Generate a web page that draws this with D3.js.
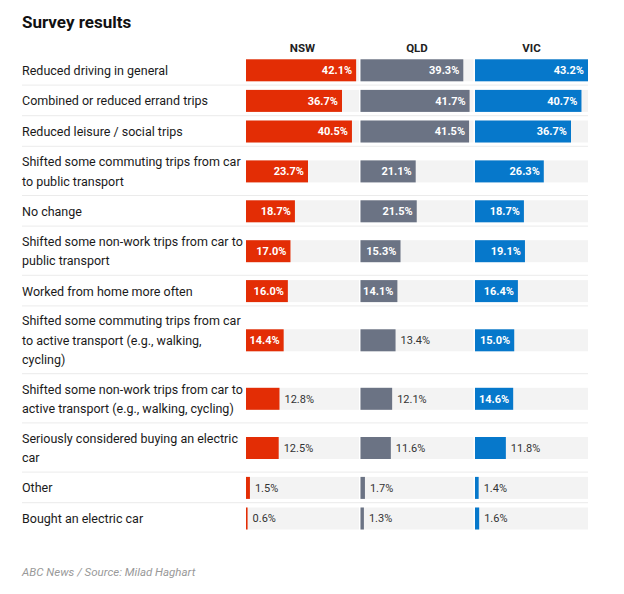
<!DOCTYPE html>
<html>
<head>
<meta charset="utf-8">
<script src="https://cdn.jsdelivr.net/npm/d3@7"></script>
<style>
  html, body { margin: 0; padding: 0; background: #fff; }
  svg { display: block; font-family: Roboto, "Open Sans", sans-serif; }
</style>
</head>
<body>
<div id="chart"></div>
<script>
// Survey data (share of respondents, %)
const states = ["NSW", "QLD", "VIC"];

const categories = [
  "Reduced driving in general",
  "Combined or reduced errand trips",
  "Reduced leisure / social trips",
  "Shifted some commuting trips from car\nto public transport",
  "No change",
  "Shifted some non-work trips from car to\npublic transport",
  "Worked from home more often",
  "Shifted some commuting trips from car\nto active transport (e.g., walking,\ncycling)",
  "Shifted some non-work trips from car to\nactive transport (e.g., walking, cycling)",
  "Seriously considered buying an electric\ncar",
  "Other",
  "Bought an electric car"
];

const nsw = [42.1, 36.7, 40.5, 23.7, 18.7, 17.0, 16.0, 14.4, 12.8, 12.5, 1.5, 0.6];
const qld = [39.3, 41.7, 41.5, 21.1, 21.5, 15.3, 14.1, 13.4, 12.1, 11.6, 1.7, 1.3];
const vic = [43.2, 40.7, 36.7, 26.3, 18.7, 19.1, 16.4, 15.0, 14.6, 11.8, 1.4, 1.6];

const colors = { NSW: "#e32d05", QLD: "#6b7384", VIC: "#0678cb" };

// Layout
const svgWidth = 624;
const svgHeight = 594;
const left = 22;
const right = 588;
const rowsTop = 55;
const lineHeight = 18.6;
const barHeight = 22;

const svg = d3.select("#chart")
  .append("svg")
  .attr("width", svgWidth)
  .attr("height", svgHeight);

// build rows with variable height (depends on label lines)
const series = { NSW: nsw, QLD: qld, VIC: vic };
let yCursor = rowsTop;
const rows = categories.map((c, i) => {
  const lines = c.split("\n");
  const h = 12 + lineHeight * lines.length;
  const row = { label: c, lines: lines, y: yCursor, h: h, i: i };
  yCursor += h;
  return row;
});

const colScale = d3.scaleBand()
  .domain(states)
  .range([246, right])
  .paddingInner(0.013);

const xScale = d3.scaleLinear()
  .domain([0, d3.max([...nsw, ...qld, ...vic])])
  .range([0, colScale.bandwidth()]);

// Title
svg.append("text")
  .attr("x", left)
  .attr("y", 28)
  .attr("font-size", 17)
  .attr("font-weight", 700)
  .attr("fill", "#111")
  .text("Survey results");

// Column headers
svg.selectAll(".colHead")
  .data(states)
  .enter()
  .append("text")
  .attr("x", d => colScale(d) + colScale.bandwidth() / 2)
  .attr("y", 52)
  .attr("text-anchor", "middle")
  .attr("font-size", 11.5)
  .attr("font-weight", 700)
  .attr("fill", "#222")
  .text(d => d);

const rowGroups = svg.selectAll(".row")
  .data(rows)
  .enter()
  .append("g")
  .attr("transform", d => `translate(0, ${d.y})`);

// separators
rowGroups.filter(d => d.i < rows.length - 1)
  .append("line")
  .attr("x1", left)
  .attr("x2", right)
  .attr("y1", d => d.h - 0.5)
  .attr("y2", d => d.h - 0.5)
  .attr("stroke", "#ebebeb")
  .attr("stroke-width", 1);

// category labels
rowGroups.each(function(d) {
  const g = d3.select(this);
  const n = d.lines.length;
  const text = g.append("text")
    .attr("font-size", 12.5)
    .attr("fill", "#1a1a1a");
  d.lines.forEach((line, k) => {
    text.append("tspan")
      .attr("x", left)
      .attr("y", d.h / 2 + (k - (n - 1) / 2) * 19.5 + 4.5)
      .text(line);
  });
});

// cells per state
states.forEach(state => {
  const values = series[state];
  const x0 = colScale(state);

  rowGroups.append("rect")
    .attr("x", x0)
    .attr("y", d => (d.h - barHeight) / 2)
    .attr("width", colScale.bandwidth())
    .attr("height", barHeight)
    .attr("fill", "#f3f3f3");

  rowGroups.append("rect")
    .attr("x", x0)
    .attr("y", d => (d.h - barHeight) / 2)
    .attr("width", d => xScale(values[d.i]))
    .attr("height", barHeight)
    .attr("fill", colors[state]);

  rowGroups.append("text")
    .attr("x", d => {
      const w = xScale(values[d.i]);
      return w >= 36 ? x0 + w - 4 : x0 + w + 5;
    })
    .attr("y", d => d.h / 2 + 4)
    .attr("text-anchor", d => xScale(values[d.i]) >= 36 ? "end" : "start")
    .attr("font-size", 11)
    .attr("font-weight", d => xScale(values[d.i]) >= 36 ? 700 : 400)
    .attr("fill", d => xScale(values[d.i]) >= 36 ? "#fff" : "#333")
    .text(d => values[d.i].toFixed(1) + "%");
});

// Footer
svg.append("text")
  .attr("x", left)
  .attr("y", 576)
  .attr("font-size", 11.5)
  .attr("font-style", "italic")
  .attr("fill", "#999")
  .text("ABC News / Source: Milad Haghart");
</script>
</body>
</html>
